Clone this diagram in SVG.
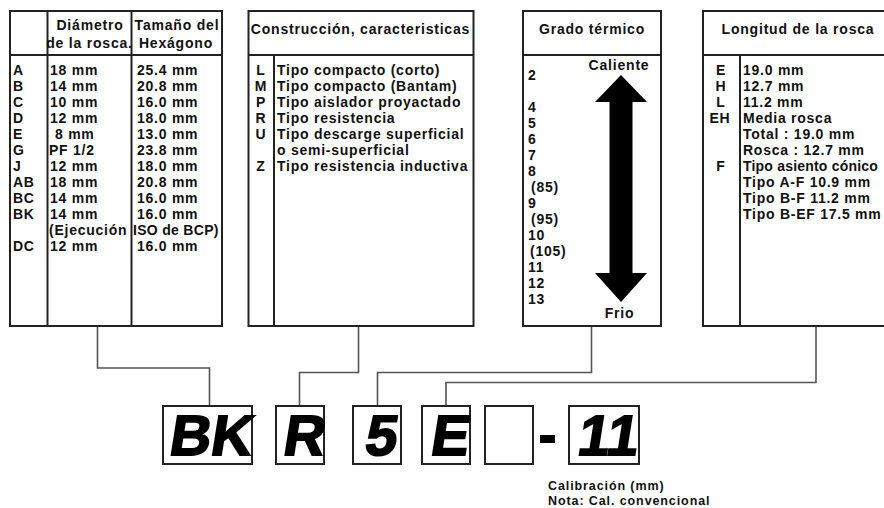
<svg xmlns="http://www.w3.org/2000/svg" width="884" height="508" viewBox="0 0 884 508">
<style>
.box{fill:#fff;stroke:#222;stroke-width:2}
.ln{stroke:#222;stroke-width:2;fill:none}
.con{stroke:#555;stroke-width:1.6;fill:none}
.t{font-family:"Liberation Sans",Arial,sans-serif;font-weight:bold;font-size:14px;letter-spacing:0.75px;fill:#111}
.h{font-family:"Liberation Sans",Arial,sans-serif;font-weight:bold;font-size:14px;letter-spacing:0.8px;fill:#111}
.c{text-anchor:middle}
.big{font-family:"Liberation Sans",Arial,sans-serif;font-weight:bold;font-size:57px;fill:#000;stroke:#000;stroke-width:1.8;text-anchor:middle}
.sm{font-family:"Liberation Sans",Arial,sans-serif;font-weight:bold;font-size:12.5px;letter-spacing:0.9px;fill:#111}
</style>
<rect width="884" height="508" fill="#fff"/>

<g id="box-diametro">
<rect class="box" x="10" y="11" width="212" height="315"/>
<line class="ln" x1="10" y1="55" x2="222" y2="55"/>
<line class="ln" x1="47.5" y1="11" x2="47.5" y2="326"/>
<line class="ln" x1="131.5" y1="11" x2="131.5" y2="326"/>
<text class="h c" x="90" y="30">Diámetro</text>
<text class="h c" x="89.5" y="48">de la rosca.</text>
<text class="h c" x="177" y="30">Tamaño del</text>
<text class="h c" x="176" y="48">Hexágono</text>
<g class="t">
<text x="13" y="75">A</text><text x="50" y="75">18 mm</text><text x="137" y="75">25.4 mm</text>
<text x="13" y="91">B</text><text x="50" y="91">14 mm</text><text x="137" y="91">20.8 mm</text>
<text x="13" y="107">C</text><text x="50" y="107">10 mm</text><text x="137" y="107">16.0 mm</text>
<text x="13" y="123">D</text><text x="50" y="123">12 mm</text><text x="137" y="123">18.0 mm</text>
<text x="13" y="139">E</text><text x="55" y="139">8 mm</text><text x="137" y="139">13.0 mm</text>
<text x="13" y="155">G</text><text x="49" y="155">PF 1/2</text><text x="137" y="155">23.8 mm</text>
<text x="13" y="171">J</text><text x="50" y="171">12 mm</text><text x="137" y="171">18.0 mm</text>
<text x="13" y="187">AB</text><text x="50" y="187">18 mm</text><text x="137" y="187">20.8 mm</text>
<text x="13" y="203">BC</text><text x="50" y="203">14 mm</text><text x="137" y="203">16.0 mm</text>
<text x="13" y="219">BK</text><text x="50" y="219">14 mm</text><text x="137" y="219">16.0 mm</text>
<text x="49" y="235">(Ejecución</text><text x="133" y="235" letter-spacing="0.3">ISO de  BCP)</text>
<text x="13" y="251">DC</text><text x="50" y="251">12 mm</text><text x="137" y="251">16.0 mm</text>
</g>
</g>

<g id="box-construccion">
<rect class="box" x="248.5" y="11" width="225" height="315"/>
<line class="ln" x1="248.5" y1="55" x2="473.5" y2="55"/>
<line class="ln" x1="274" y1="55" x2="274" y2="326"/>
<text class="h c" x="360.5" y="34" letter-spacing="0.65">Construcción,  caracteristicas</text>
<g class="t">
<text class="c" x="261" y="75">L</text><text x="277" y="75">Tipo compacto (corto)</text>
<text class="c" x="261" y="91">M</text><text x="277" y="91">Tipo compacto (Bantam)</text>
<text class="c" x="261" y="107">P</text><text x="277" y="107">Tipo aislador proyactado</text>
<text class="c" x="261" y="123">R</text><text x="277" y="123">Tipo resistencia</text>
<text class="c" x="261" y="139">U</text><text x="277" y="139">Tipo descarge superficial</text>
<text x="277" y="155">o semi-superficial</text>
<text class="c" x="261" y="171">Z</text><text x="277" y="171">Tipo resistencia inductiva</text>
</g>
</g>

<g id="box-grado">
<rect class="box" x="523" y="11" width="138" height="315"/>
<line class="ln" x1="523" y1="55" x2="661" y2="55"/>
<text class="h c" x="592" y="34" letter-spacing="1">Grado térmico</text>
<text class="h c" x="619" y="70" letter-spacing="1">Caliente</text>
<text class="h c" x="619.5" y="318" letter-spacing="1">Frio</text>
<path d="M621 75 L647 102 L632.5 102 L632.5 273 L647 273 L621 302 L595 273 L609.5 273 L609.5 102 L595 102 Z" fill="#000"/>
<g class="t">
<text x="528" y="80">2</text>
<text x="528" y="112">4</text>
<text x="528" y="128">5</text>
<text x="528" y="144">6</text>
<text x="528" y="160">7</text>
<text x="528" y="176">8</text>
<text x="531" y="192">(85)</text>
<text x="528" y="208">9</text>
<text x="531" y="224">(95)</text>
<text x="528" y="240">10</text>
<text x="530" y="256">(105)</text>
<text x="528" y="272">11</text>
<text x="528" y="288">12</text>
<text x="528" y="304">13</text>
</g>
</g>

<g id="box-longitud">
<rect class="box" x="703" y="11" width="190" height="315"/>
<line class="ln" x1="703" y1="55" x2="893" y2="55"/>
<line class="ln" x1="740" y1="55" x2="740" y2="326"/>
<text class="h c" x="798" y="34">Longitud de la rosca</text>
<g class="t">
<text class="c" x="721" y="75">E</text><text x="743" y="75">19.0 mm</text>
<text class="c" x="721" y="91">H</text><text x="743" y="91">12.7 mm</text>
<text class="c" x="721" y="107">L</text><text x="743" y="107">11.2 mm</text>
<text class="c" x="720" y="123">EH</text><text x="743" y="123">Media rosca</text>
<text x="743" y="139">Total : 19.0 mm</text>
<text x="743" y="155">Rosca : 12.7 mm</text>
<text class="c" x="721" y="171">F</text><text x="743" y="171" letter-spacing="0.2">Tipo asiento cónico</text>
<text x="743" y="187">Tipo A-F 10.9 mm</text>
<text x="743" y="203">Tipo B-F 11.2 mm</text>
<text x="743" y="219">Tipo B-EF 17.5 mm</text>
</g>
</g>

<g id="connectors">
<polyline class="con" points="97.5,327 97.5,368 209.5,368 209.5,406"/>
<polyline class="con" points="358.5,327 358.5,372.5 299.5,372.5 299.5,406"/>
<polyline class="con" points="591.5,327 591.5,372.5 377.5,372.5 377.5,406"/>
<polyline class="con" points="816,327 816,382.5 446,382.5 446,406"/>
</g>

<g id="code-BK"><rect class="box" x="163" y="406" width="89" height="58" stroke-width="1.8"/><text class="big" transform="translate(209,455) skewX(-9)">BK</text></g>
<g id="code-R"><rect class="box" x="276" y="406" width="48" height="58" stroke-width="1.8"/><text class="big" transform="translate(302,455) skewX(-9)">R</text></g>
<g id="code-5"><rect class="box" x="353" y="406" width="48" height="58" stroke-width="1.8"/><text class="big" transform="translate(379,455) skewX(-9)">5</text></g>
<g id="code-E"><rect class="box" x="422" y="406" width="48" height="58" stroke-width="1.8"/><text class="big" transform="translate(448,455) skewX(-9)">E</text></g>
<g id="code-blank"><rect class="box" x="485" y="406" width="48" height="58" stroke-width="1.8"/></g>
<g id="code-dash"><rect x="540" y="435" width="15" height="8" fill="#000"/></g>
<g id="code-11"><rect class="box" x="569" y="406" width="70" height="58" stroke-width="1.8"/><text class="big" transform="translate(606,455) skewX(-9)">11</text></g>

<g id="note">
<text class="sm" x="548" y="490">Calibración (mm)</text>
<text class="sm" x="548" y="505">Nota: Cal. convencional</text>
</g>
</svg>
